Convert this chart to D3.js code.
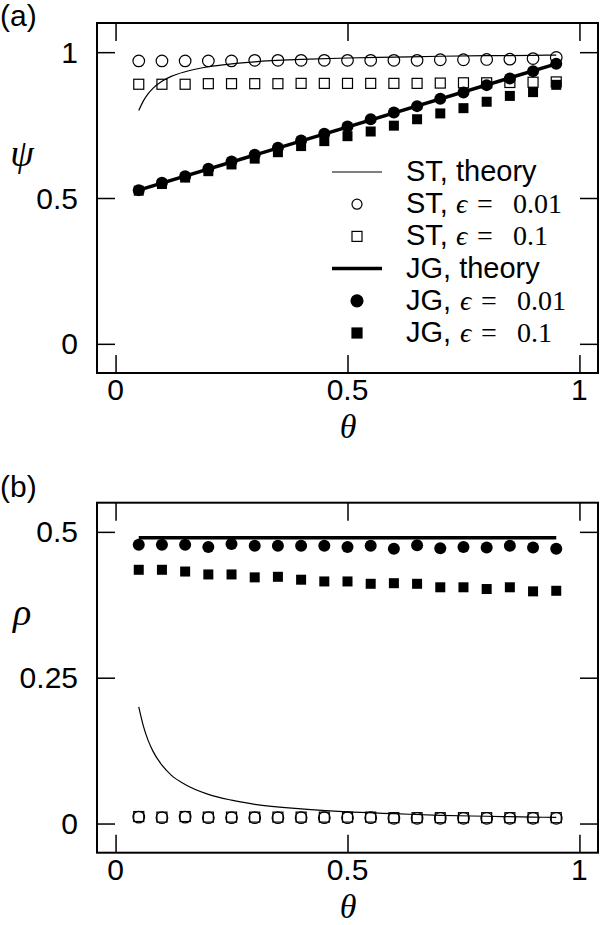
<!DOCTYPE html>
<html lang="en">
<head>
<meta charset="utf-8">
<title>psi and rho vs theta</title>
<script src="https://d3js.org/d3.v7.min.js"></script>
<style type="text/css">
  body { margin: 0; background: #fff; }
  text { font-family: "Liberation Sans", Arial, sans-serif; fill: #000; }
  .math { font-family: "Liberation Serif", "Times New Roman", serif; }
</style>
</head>
<body>
<script type="text/javascript">

// theta values for the simulation points
var theta = [0.05, 0.10, 0.15, 0.20, 0.25, 0.30, 0.35, 0.40, 0.45, 0.50,
             0.55, 0.60, 0.65, 0.70, 0.75, 0.80, 0.85, 0.90, 0.95];

// panel (a): psi
var psiST001 = [0.970, 0.970, 0.970, 0.970, 0.970, 0.972, 0.972, 0.972, 0.972, 0.972,
                0.972, 0.972, 0.972, 0.974, 0.974, 0.975, 0.976, 0.978, 0.982];
var psiST01  = [0.890, 0.890, 0.890, 0.892, 0.892, 0.892, 0.892, 0.893, 0.893, 0.893,
                0.893, 0.893, 0.893, 0.894, 0.895, 0.895, 0.896, 0.897, 0.898];
var psiJG001 = [0.527, 0.552, 0.575, 0.600, 0.625, 0.648, 0.672, 0.697, 0.720, 0.745,
                0.770, 0.793, 0.815, 0.840, 0.862, 0.887, 0.910, 0.935, 0.960];
var psiJG01  = [0.525, 0.548, 0.570, 0.592, 0.615, 0.635, 0.657, 0.678, 0.695, 0.712,
                0.728, 0.748, 0.770, 0.790, 0.808, 0.830, 0.850, 0.863, 0.888];

// theory curves
var thetaST   = [0.05, 0.06, 0.07, 0.08, 0.10, 0.12, 0.15, 0.20, 0.25, 0.30,
                 0.40, 0.50, 0.60, 0.70, 0.80, 0.90, 0.95];
var psiSTth   = [0.800, 0.833, 0.857, 0.875, 0.900, 0.917, 0.933, 0.950, 0.960, 0.967,
                 0.975, 0.980, 0.983, 0.986, 0.988, 0.989, 0.990];
var thetaJG   = [0.05, 0.95];
var psiJGth   = [0.527, 0.960];

// panel (b): rho
var rhoST001 = [0.011, 0.010, 0.011, 0.010, 0.010, 0.010, 0.010, 0.010, 0.010, 0.010,
                0.010, 0.009, 0.009, 0.009, 0.009, 0.009, 0.009, 0.009, 0.009];
var rhoST01  = [0.012, 0.011, 0.012, 0.011, 0.011, 0.011, 0.011, 0.011, 0.011, 0.011,
                0.011, 0.010, 0.010, 0.010, 0.010, 0.010, 0.010, 0.010, 0.010];
var rhoJG001 = [0.478, 0.478, 0.478, 0.474, 0.479, 0.476, 0.476, 0.476, 0.476, 0.474,
                0.476, 0.471, 0.477, 0.472, 0.474, 0.473, 0.476, 0.473, 0.471];
var rhoJG01  = [0.435, 0.435, 0.432, 0.427, 0.427, 0.422, 0.423, 0.418, 0.415, 0.415,
                0.411, 0.412, 0.411, 0.405, 0.405, 0.402, 0.405, 0.398, 0.399];
var rhoSTth  = [0.200, 0.167, 0.143, 0.125, 0.100, 0.083, 0.067, 0.050, 0.040, 0.033,
                0.025, 0.020, 0.017, 0.014, 0.0125, 0.011, 0.0105];
var rhoJGth  = [0.490, 0.490];

var xTicks = [0, 0.5, 1];
var yTicksA = [0, 0.5, 1];
var yTicksB = [0, 0.25, 0.5];
var xTickLabels = ["0", "0.5", "1"];
var yTickLabelsA = ["0", "0.5", "1"];
var yTickLabelsB = ["0", "0.25", "0.5"];

var w = 600, h = 925;

var svg = d3.select("body").append("svg")
  .attr("width", w)
  .attr("height", h);

var x = d3.scaleLinear().domain([-0.04, 1.04]).range([97, 598]);
var yA = d3.scaleLinear().domain([-0.1, 1.1]).range([373, 23]);
var yB = d3.scaleLinear().domain([-0.05, 0.55]).range([852.7, 502.7]);

function panel(y, yTicks, yLabels, letter, letterY, yName, yNameY) {
  var g = svg.append("g");
  var top = y.range()[1], bottom = y.range()[0];
  var left = x.range()[0], right = x.range()[1];

  // inward ticks on all four sides
  g.append("g").attr("transform", "translate(0," + bottom + ")")
    .call(d3.axisBottom(x).tickValues(xTicks).tickSize(-18).tickFormat(""));
  g.append("g").attr("transform", "translate(0," + top + ")")
    .call(d3.axisTop(x).tickValues(xTicks).tickSize(-18).tickFormat(""));
  g.append("g").attr("transform", "translate(" + left + ",0)")
    .call(d3.axisLeft(y).tickValues(yTicks).tickSize(-18).tickFormat(""));
  g.append("g").attr("transform", "translate(" + right + ",0)")
    .call(d3.axisRight(y).tickValues(yTicks).tickSize(-18).tickFormat(""));

  g.selectAll(".domain").remove();
  g.selectAll(".tick text").remove();
  g.selectAll(".tick line").attr("stroke", "#000").attr("stroke-width", 1.5);

  // tick labels
  g.selectAll(".xlab").data(xTicks).enter().append("text")
    .attr("x", function(d) { return x(d); })
    .attr("y", bottom + 27)
    .attr("text-anchor", "middle")
    .attr("font-size", 30)
    .text(function(d, i) { return xTickLabels[i]; });
  g.selectAll(".ylab").data(yTicks).enter().append("text")
    .attr("x", 78)
    .attr("y", function(d) { return y(d) + 10.5; })
    .attr("text-anchor", "end")
    .attr("font-size", 30)
    .text(function(d, i) { return yLabels[i]; });

  g.append("rect")
    .attr("x", left).attr("y", top)
    .attr("width", right - left).attr("height", bottom - top)
    .attr("fill", "none").attr("stroke", "#000").attr("stroke-width", 2);

  svg.append("text").attr("x", 0).attr("y", letterY)
    .attr("font-size", 30).text(letter);

  svg.append("text").attr("class", "math")
    .attr("x", 348).attr("y", bottom + 65)
    .attr("text-anchor", "middle")
    .attr("font-style", "italic").attr("font-size", 34).text("θ");

  svg.append("text").attr("class", "math")
    .attr("x", 22).attr("y", yNameY)
    .attr("text-anchor", "middle")
    .attr("font-style", "italic").attr("font-size", 38).text(yName);

  return g;
}

var gA = panel(yA, yTicksA, yTickLabelsA, "(a)", 26, "ψ", 166);
var gB = panel(yB, yTicksB, yTickLabelsB, "(b)", 497, "ρ", 625);

function line(y, xs, ys, curve) {
  return d3.line()
    .x(function(d, i) { return x(xs[i]); })
    .y(function(d) { return y(d); })
    .curve(curve || d3.curveLinear)(ys);
}

function drawPanel(g, y, stTh, jgTh, st001, st01, jg001, jg01) {
  g.append("path").attr("d", line(y, thetaST, stTh, d3.curveMonotoneX))
    .attr("fill", "none").attr("stroke", "#000").attr("stroke-width", 1.2);
  g.append("path").attr("d", line(y, thetaJG, jgTh))
    .attr("fill", "none").attr("stroke", "#000").attr("stroke-width", 3.5);

  g.selectAll(".st001").data(st001).enter().append("circle")
    .attr("cx", function(d, i) { return x(theta[i]); })
    .attr("cy", function(d) { return y(d); })
    .attr("r", 5.8).attr("fill", "none").attr("stroke", "#000").attr("stroke-width", 1.2);
  g.selectAll(".st01").data(st01).enter().append("rect")
    .attr("x", function(d, i) { return x(theta[i]) - 5; })
    .attr("y", function(d) { return y(d) - 5; })
    .attr("width", 10).attr("height", 10)
    .attr("fill", "none").attr("stroke", "#000").attr("stroke-width", 1.2);
  g.selectAll(".jg001").data(jg001).enter().append("circle")
    .attr("cx", function(d, i) { return x(theta[i]); })
    .attr("cy", function(d) { return y(d); })
    .attr("r", 6).attr("fill", "#000");
  g.selectAll(".jg01").data(jg01).enter().append("rect")
    .attr("x", function(d, i) { return x(theta[i]) - 5; })
    .attr("y", function(d) { return y(d) - 5; })
    .attr("width", 10).attr("height", 10).attr("fill", "#000");
}

drawPanel(gA, yA, psiSTth, psiJGth, psiST001, psiST01, psiJG001, psiJG01);
drawPanel(gB, yB, rhoSTth, rhoJGth, rhoST001, rhoST01, rhoJG001, rhoJG01);

// legend in panel (a)
var legendRows = [
  { head: "ST, ", tail: "theory", eps: null, mark: "thin" },
  { head: "ST,", tail: null, eps: "0.01", mark: "ocircle" },
  { head: "ST,", tail: null, eps: "0.1", mark: "osquare" },
  { head: "JG, ", tail: "theory", eps: null, mark: "thick" },
  { head: "JG,", tail: null, eps: "0.01", mark: "fcircle" },
  { head: "JG,", tail: null, eps: "0.1", mark: "fsquare" }
];

var leg = svg.append("g");
legendRows.forEach(function(r, i) {
  var cy = 172 + i * 32.2;
  var mx = 357;
  if (r.mark === "thin" || r.mark === "thick") {
    leg.append("line").attr("x1", mx - 25).attr("x2", mx + 25)
      .attr("y1", cy).attr("y2", cy).attr("stroke", "#000")
      .attr("stroke-width", r.mark === "thin" ? 1.2 : 3.5);
  } else if (r.mark === "ocircle" || r.mark === "fcircle") {
    leg.append("circle").attr("cx", mx).attr("cy", cy).attr("r", r.mark === "ocircle" ? 5 : 6)
      .attr("fill", r.mark === "ocircle" ? "none" : "#000").attr("stroke", "#000").attr("stroke-width", 1.2);
  } else {
    leg.append("rect").attr("x", mx - 5).attr("y", cy - 5).attr("width", 10).attr("height", 10)
      .attr("fill", r.mark === "osquare" ? "none" : "#000").attr("stroke", "#000").attr("stroke-width", 1.2);
  }
  var t = leg.append("text").attr("x", 406).attr("y", cy + 9).attr("font-size", 28);
  t.append("tspan").attr("font-size", 29).text(r.head);
  if (r.tail) {
    t.append("tspan").attr("font-size", 29).text(r.tail);
  } else {
    var tx = r.head === "JG," ? 4 : 0;
    t.append("tspan").attr("class", "math").attr("x", 456 + tx)
      .attr("font-style", "italic").attr("font-size", 28).text("ϵ");
    t.append("tspan").attr("class", "math").attr("x", 477 + tx)
      .attr("font-size", 28).text("=");
    t.append("tspan").attr("class", "math").attr("x", 513 + tx)
      .attr("font-size", 28).text(r.eps);
  }
});

</script>
</body>
</html>
